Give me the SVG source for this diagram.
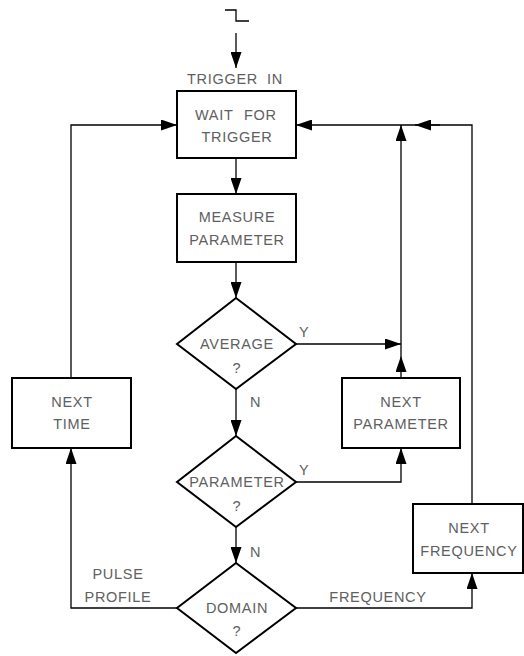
<svg xmlns="http://www.w3.org/2000/svg" width="524" height="656" viewBox="0 0 524 656">
<defs>
<style>
.box{fill:#fff;stroke:#000;stroke-width:2}
.ln{fill:none;stroke:#000;stroke-width:1.3}
.t{font-family:"Liberation Sans",Arial,sans-serif;font-size:14.5px;fill:#606060;text-anchor:middle;letter-spacing:0.7px}
.l{font-family:"Liberation Sans",Arial,sans-serif;font-size:14.5px;fill:#606060;letter-spacing:0.7px}
</style>
<marker id="ah" markerWidth="16" markerHeight="11" refX="16" refY="5.5" orient="auto" markerUnits="userSpaceOnUse">
<path d="M0,0 L16,5.5 L0,11 Z" fill="#000"/>
</marker>
</defs>
<rect width="524" height="656" fill="#fff"/>
<g id="connectors">
<path class="ln" d="M225,10 H236 V21 H249"/>
<path class="ln" d="M236,33 V68" marker-end="url(#ah)"/>
<path class="ln" d="M236,158 V194" marker-end="url(#ah)"/>
<path class="ln" d="M236,262 V298" marker-end="url(#ah)"/>
<path class="ln" d="M236,389 V436" marker-end="url(#ah)"/>
<path class="ln" d="M236,527 V563" marker-end="url(#ah)"/>
<path class="ln" d="M296,344 H401" marker-end="url(#ah)"/>
<path class="ln" d="M401,378 V356" marker-end="url(#ah)"/>
<path class="ln" d="M401,356 V344"/>
<path class="ln" d="M401,344 V125" marker-end="url(#ah)"/>
<path class="ln" d="M401,125 H296" marker-end="url(#ah)"/>
<path class="ln" d="M472,504 V125 H401"/>
<path class="ln" d="M440,125 H415" marker-end="url(#ah)"/>
<path class="ln" d="M296,482 H401 V448" marker-end="url(#ah)"/>
<path class="ln" d="M296,608 H472 V573" marker-end="url(#ah)"/>
<path class="ln" d="M177,608 H71 V448" marker-end="url(#ah)"/>
<path class="ln" d="M71,378 V125 H177" marker-end="url(#ah)"/>
</g>
<text class="l" x="187" y="84">TRIGGER</text>
<text class="l" x="267" y="84">IN</text>
<g id="wait">
<rect class="box" x="177" y="91" width="119" height="67"/>
<text class="l" x="195" y="120">WAIT</text>
<text class="l" x="244" y="120">FOR</text>
<text class="t" x="237" y="142">TRIGGER</text>
</g>
<g id="measure">
<rect class="box" x="177" y="194" width="119" height="68"/>
<text class="t" x="237" y="222">MEASURE</text>
<text class="t" x="237" y="245">PARAMETER</text>
</g>
<g id="average">
<polygon class="box" points="236,298 296,344 236,389 177,344"/>
<text class="t" x="237" y="349">AVERAGE</text>
<text class="t" x="237" y="373">?</text>
<text class="l" x="299" y="337">Y</text>
<text class="l" x="250" y="407">N</text>
</g>
<g id="parameter">
<polygon class="box" points="236,436 296,482 236,527 177,482"/>
<text class="t" x="237" y="487">PARAMETER</text>
<text class="t" x="237" y="511">?</text>
<text class="l" x="299" y="475">Y</text>
<text class="l" x="250" y="557">N</text>
</g>
<g id="domain">
<polygon class="box" points="236,563 296,608 236,653 177,608"/>
<text class="t" x="237" y="613">DOMAIN</text>
<text class="t" x="237" y="636">?</text>
<text class="t" x="378" y="602">FREQUENCY</text>
<text class="t" x="118" y="579">PULSE</text>
<text class="t" x="118" y="602">PROFILE</text>
</g>
<g id="nexttime">
<rect class="box" x="12" y="378" width="119" height="70"/>
<text class="t" x="72" y="407">NEXT</text>
<text class="t" x="72" y="429">TIME</text>
</g>
<g id="nextparameter">
<rect class="box" x="342" y="378" width="118" height="70"/>
<text class="t" x="401" y="407">NEXT</text>
<text class="t" x="401" y="429">PARAMETER</text>
</g>
<g id="nextfrequency">
<rect class="box" x="413" y="504" width="110" height="69"/>
<text class="t" x="469" y="533">NEXT</text>
<text class="t" x="469" y="556">FREQUENCY</text>
</g>
</svg>
